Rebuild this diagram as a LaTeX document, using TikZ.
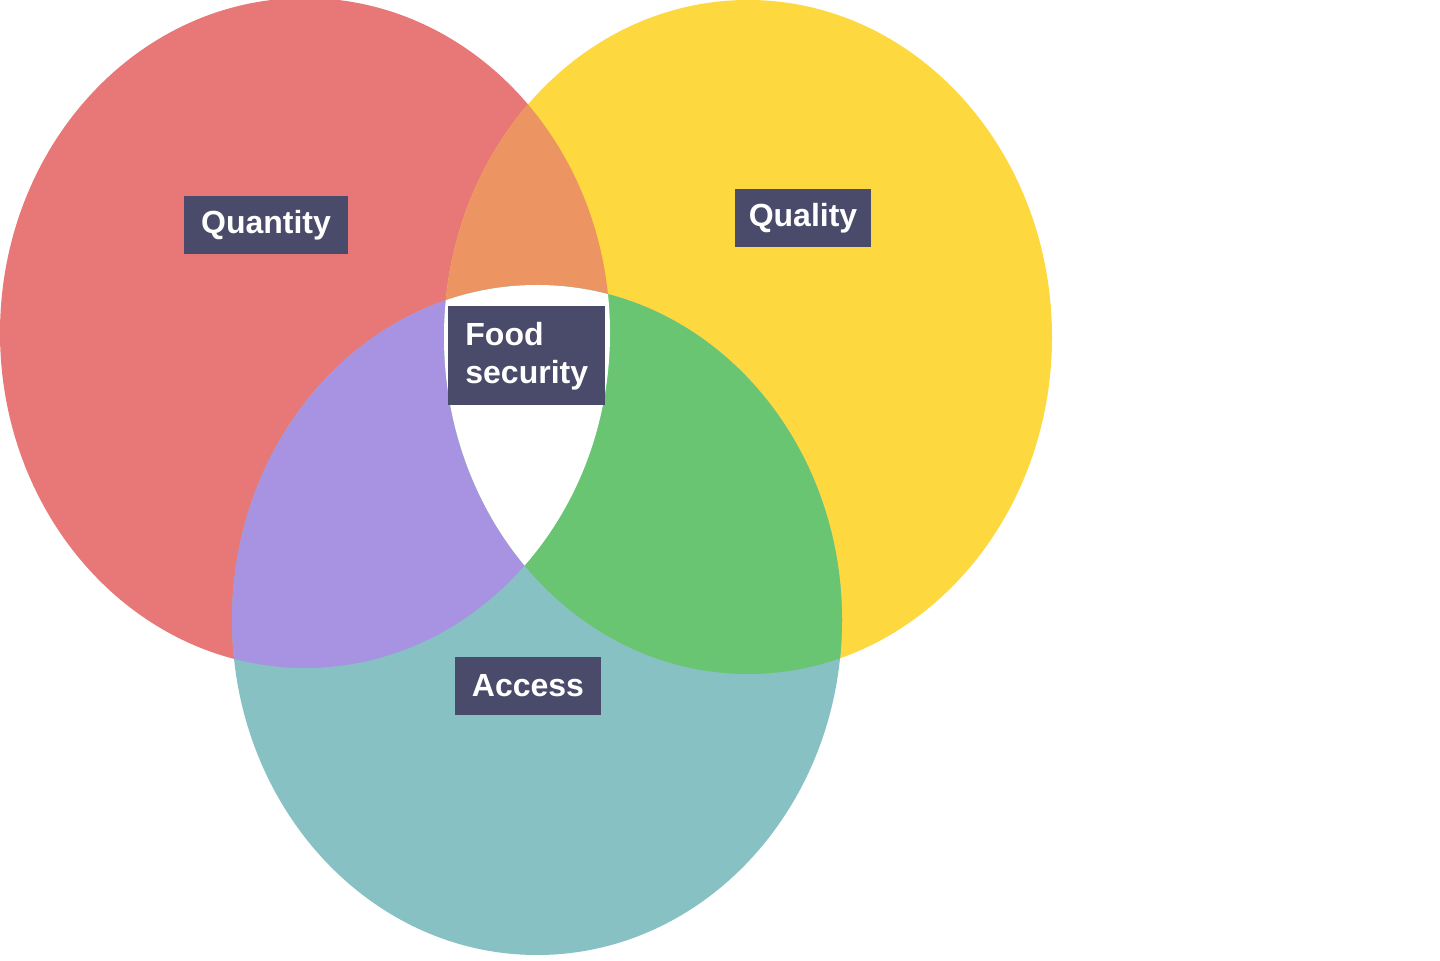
\documentclass[tikz,border=0pt]{standalone}
\usepackage{fontspec}
\setmainfont{Liberation Sans}
\definecolor{quantred}{HTML}{E87878}
\definecolor{qualyellow}{HTML}{FED83F}
\definecolor{accteal}{HTML}{87C1C4}
\definecolor{mixorange}{HTML}{EC9563}
\definecolor{mixpurple}{HTML}{A892E2}
\definecolor{mixgreen}{HTML}{69C572}
\definecolor{tagblue}{HTML}{4A4B6B}
\begin{document}
\begin{tikzpicture}[x=0.5pt, y=-0.5pt,
tag/.style ={fill=tagblue, text=white, font=\bfseries\fontsize{16}{19}\selectfont,
inner xsep=8.5pt, inner ysep=0pt, minimum height=29pt}]

\useasboundingbox (0,0) rectangle (1440,961);
\fill[white] (0,0) rectangle (1440,961);

% the three sets
\fill[quantred] (305,333) ellipse [x radius=305, y radius=335];
\fill[qualyellow] (748,337) ellipse [x radius=304, y radius=337];
\fill[accteal] (537,620) ellipse [x radius=305, y radius=335];

% overlaps
\begin{scope}
\clip (305,333) ellipse [x radius=305, y radius=335];
\fill[mixorange] (748,337) ellipse [x radius=304, y radius=337];
\fill[mixpurple] (537,620) ellipse [x radius=305, y radius=335];
\end{scope}
\begin{scope}
\clip (748,337) ellipse [x radius=304, y radius=337];
\fill[mixgreen] (537,620) ellipse [x radius=305, y radius=335];
\end{scope}
\begin{scope}
\clip (305,333) ellipse [x radius=305, y radius=335];
\clip (748,337) ellipse [x radius=304, y radius=337];
\fill[white] (537,620) ellipse [x radius=305, y radius=335];
\end{scope}

% labels
\node[tag] (quant) at (266,225) {Quantity};
\node[tag, inner xsep=7pt] (qual) at (803,218) {Quality};
\node[tag] (acc) at (528,686) {Access};
\node[tag, align=left, anchor=north west, minimum height=49.5pt] (food) at (448,306) {Food\\security};

\end{tikzpicture}
\end{document}
